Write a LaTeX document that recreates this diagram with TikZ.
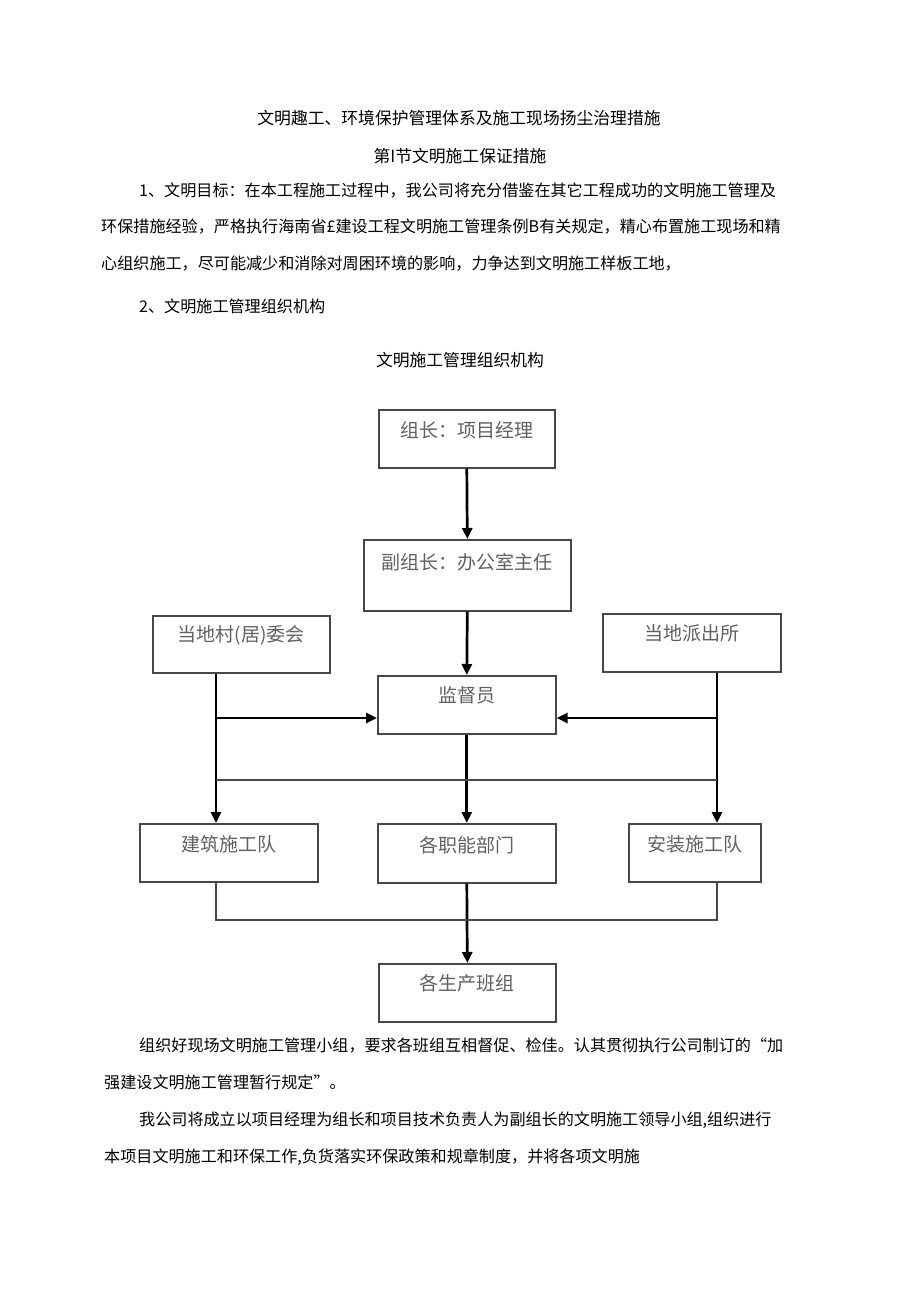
\documentclass[tikz,border=0pt]{standalone}
\usepackage{fontspec}
\setmainfont{Noto Sans CJK SC}
\usetikzlibrary{arrows.meta}
\begin{document}
\begin{tikzpicture}[x=1pt,y=-1pt,
  body/.style={anchor=base west, inner sep=0, font=\fontsize{16.1}{16}\selectfont, text=black},
  head/.style={anchor=base, inner sep=0, font=\fontsize{16.8}{17}\selectfont, text=black},
  box/.style={draw=black!72, line width=1.6pt, inner sep=0, anchor=north west, align=center,
    font=\fontsize{19}{19}\selectfont, text=black!62},
  arr/.style={draw=black, line width=2.7pt, -{Triangle[length=11pt,width=10pt]}},
  thin/.style={draw=black!72, line width=1.4pt}]
\fill[white] (0,0) rectangle (920,1301);
\useasboundingbox (0,0) rectangle (920,1301);

% headings and text
\node[head] (h1) at (459,124.5) {文明趣工、环境保护管理体系及施工现场扬尘治理措施};
\node[head] (h2) at (460,162.5) {第I节文明施工保证措施};
\node[body] (p1) at (139,196) {1、文明目标：在本工程施工过程中，我公司将充分借鉴在其它工程成功的文明施工管理及};
\node[body] (p2) at (101,232) {环保措施经验，严格执行海南省£建设工程文明施工管理条例B有关规定，精心布置施工现场和精};
\node[body] (p3) at (101,269) {心组织施工，尽可能减少和消除对周困环境的影响，力争达到文明施工样板工地，};
\node[body] (p4) at (139,312) {2、文明施工管理组织机构};
\node[head] (h3) at (460,366.5) {文明施工管理组织机构};

\node[body] (q1) at (139,1051) {组织好现场文明施工管理小组，要求各班组互相督促、检佳。认其贯彻执行公司制订的“加};
\node[body] (q2) at (104,1088) {强建设文明施工管理暂行规定”。};
\node[body] (q3) at (139,1125) {我公司将成立以项目经理为组长和项目技术负责人为副组长的文明施工领导小组,组织进行};
\node[body] (q4) at (104,1162) {本项目文明施工和环保工作,负货落实环保政策和规章制度，并将各项文明施};

% boxes
\node[box, minimum width=176, text height=28, text depth=30] (lead) at (378,409) {组长：项目经理};
\node[box, minimum width=207, text height=30, text depth=41] (vice) at (363,539) {副组长：办公室主任};
\node[box, minimum width=177, text height=26, text depth=31] (village) at (152,615) {当地村(居)委会};
\node[box, minimum width=178, text height=27, text depth=31] (police) at (602,613) {当地派出所};
\node[box, minimum width=178, text height=27, text depth=31] (sup) at (377,675) {监督员};
\node[box, minimum width=178, text height=28, text depth=30] (build) at (139,823) {建筑施工队};
\node[box, minimum width=178, text height=29, text depth=30] (dept) at (377,823) {各职能部门};
\node[box, minimum width=132, text height=28, text depth=30] (install) at (628,823) {安装施工队};
\node[box, minimum width=177, text height=27, text depth=31] (prod) at (378,963) {各生产班组};

% helper coordinates
\coordinate (vl) at (216,0);
\coordinate (vr) at (717,0);
\coordinate (ha) at (0,718);
\coordinate (hb) at (0,780);
\coordinate (hc) at (0,920);

% connectors
\draw[arr] (lead.south) -- (vice.north);
\draw[arr] (vice.south) -- (sup.north);
\draw[arr] (sup.south) -- (dept.north);
\draw[arr] (dept.south) -- (prod.north);
\draw[arr] (vl |- village.south) -- (vl |- build.north);
\draw[arr] (vr |- police.south) -- (vr |- install.north);
\draw[arr] (vl |- ha) -- (sup.west |- ha);
\draw[arr] (vr |- ha) -- (sup.east |- ha);
\draw[thin] (vl |- hb) -- (vr |- hb);
\draw[thin] (vl |- build.south) -- (vl |- hc) -- (vr |- hc) -- (vr |- install.south);
\end{tikzpicture}
\end{document}
